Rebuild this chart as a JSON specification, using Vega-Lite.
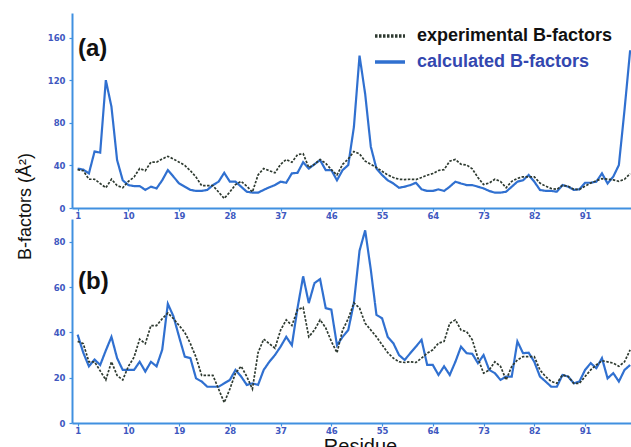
{
  "$schema": "https://vega.github.io/schema/vega-lite/v6.json",
  "autosize": "none",
  "padding": {"left": 72, "top": 13, "right": 0, "bottom": 24},
  "width": 559,
  "height": 410,
  "background": "white",
  "config": {
    "view": {"stroke": null},
    "axis": {
      "domainColor": "#4090e0", "domainWidth": 2, "tickColor": "#4090e0", "tickSize": 3, "tickWidth": 1.2,
      "labelColor": "#4058c0", "labelFont": "DejaVu Sans", "labelFontWeight": "bold", "labelFontSize": 8.5, "grid": false
    }
  },
  "datasets": {
    "exp": [
      {"residue":1,"value":36},{"residue":2,"value":35},{"residue":3,"value":27},{"residue":4,"value":27},{"residue":5,"value":23},
      {"residue":6,"value":19},{"residue":7,"value":27},{"residue":8,"value":21},{"residue":9,"value":19},{"residue":10,"value":25},
      {"residue":11,"value":29},{"residue":12,"value":37},{"residue":13,"value":35},{"residue":14,"value":43},{"residue":15,"value":43},
      {"residue":16,"value":46},{"residue":17,"value":48.5},{"residue":18,"value":46},{"residue":19,"value":43},{"residue":20,"value":40},
      {"residue":21,"value":35},{"residue":22,"value":29},{"residue":23,"value":21},{"residue":24,"value":21},{"residue":25,"value":21},
      {"residue":26,"value":15},{"residue":27,"value":9},{"residue":28,"value":15},{"residue":29,"value":22},{"residue":30,"value":25},
      {"residue":31,"value":20.5},{"residue":32,"value":15},{"residue":33,"value":31},{"residue":34,"value":37},{"residue":35,"value":35},
      {"residue":36,"value":33},{"residue":37,"value":41},{"residue":38,"value":45.5},{"residue":39,"value":43},{"residue":40,"value":50},
      {"residue":41,"value":51},{"residue":42,"value":38},{"residue":43,"value":41},{"residue":44,"value":45.5},{"residue":45,"value":42},
      {"residue":46,"value":36},{"residue":47,"value":31},{"residue":48,"value":41},{"residue":49,"value":46},{"residue":50,"value":53},
      {"residue":51,"value":50.7},{"residue":52,"value":44},{"residue":53,"value":41},{"residue":54,"value":38},{"residue":55,"value":34.5},
      {"residue":56,"value":31},{"residue":57,"value":28.6},{"residue":58,"value":27},{"residue":59,"value":26.7},{"residue":60,"value":27},
      {"residue":61,"value":26.7},{"residue":62,"value":28.6},{"residue":63,"value":30.8},{"residue":64,"value":32.3},{"residue":65,"value":35.2},
      {"residue":66,"value":36},{"residue":67,"value":44},{"residue":68,"value":45.5},{"residue":69,"value":41},{"residue":70,"value":40.3},
      {"residue":71,"value":36.7},{"residue":72,"value":28.6},{"residue":73,"value":22},{"residue":74,"value":23.4},{"residue":75,"value":27},
      {"residue":76,"value":25},{"residue":77,"value":19},{"residue":78,"value":25},{"residue":79,"value":27.8},{"residue":80,"value":29.3},
      {"residue":81,"value":29.3},{"residue":82,"value":29.3},{"residue":83,"value":23.4},{"residue":84,"value":20.5},{"residue":85,"value":18.3},
      {"residue":86,"value":17.5},{"residue":87,"value":21.2},{"residue":88,"value":20.5},{"residue":89,"value":17.5},{"residue":90,"value":17.5},
      {"residue":91,"value":20.5},{"residue":92,"value":23.4},{"residue":93,"value":25.6},{"residue":94,"value":27.5},{"residue":95,"value":27},
      {"residue":96,"value":26.4},{"residue":97,"value":25},{"residue":98,"value":27},{"residue":99,"value":32.3}
    ],
    "calcA": [
      {"residue":1,"value":37},{"residue":2,"value":36},{"residue":3,"value":32.5},{"residue":4,"value":53},{"residue":5,"value":52},
      {"residue":6,"value":120},{"residue":7,"value":95},{"residue":8,"value":45},{"residue":9,"value":26},{"residue":10,"value":21.5},
      {"residue":11,"value":20.6},{"residue":12,"value":20.6},{"residue":13,"value":17},{"residue":14,"value":20},{"residue":15,"value":18.4},
      {"residue":16,"value":26},{"residue":17,"value":35.6},{"residue":18,"value":29.4},{"residue":19,"value":23},{"residue":20,"value":20},
      {"residue":21,"value":17},{"residue":22,"value":16},{"residue":23,"value":16},{"residue":24,"value":17},{"residue":25,"value":21.5},
      {"residue":26,"value":24.7},{"residue":27,"value":33},{"residue":28,"value":24.7},{"residue":29,"value":24.7},{"residue":30,"value":20},
      {"residue":31,"value":15.3},{"residue":32,"value":14.4},{"residue":33,"value":14.4},{"residue":34,"value":17},{"residue":35,"value":19.4},
      {"residue":36,"value":21.5},{"residue":37,"value":24.7},{"residue":38,"value":23.7},{"residue":39,"value":32.5},{"residue":40,"value":33},
      {"residue":41,"value":43},{"residue":42,"value":37},{"residue":43,"value":41},{"residue":44,"value":45},{"residue":45,"value":35.6},
      {"residue":46,"value":35.6},{"residue":47,"value":26},{"residue":48,"value":35.6},{"residue":49,"value":40.3},{"residue":50,"value":76},
      {"residue":51,"value":143},{"residue":52,"value":107},{"residue":53,"value":57.5},{"residue":54,"value":37},{"residue":55,"value":31},
      {"residue":56,"value":26},{"residue":57,"value":23},{"residue":58,"value":19},{"residue":59,"value":20},{"residue":60,"value":21.5},
      {"residue":61,"value":23.7},{"residue":62,"value":17.5},{"residue":63,"value":16},{"residue":64,"value":16},{"residue":65,"value":17.5},
      {"residue":66,"value":16},{"residue":67,"value":20},{"residue":68,"value":24.7},{"residue":69,"value":23},{"residue":70,"value":21.5},
      {"residue":71,"value":21.5},{"residue":72,"value":20},{"residue":73,"value":18.4},{"residue":74,"value":16},{"residue":75,"value":14.4},
      {"residue":76,"value":14.4},{"residue":77,"value":15.3},{"residue":78,"value":20},{"residue":79,"value":24.7},{"residue":80,"value":26},
      {"residue":81,"value":31},{"residue":82,"value":24.7},{"residue":83,"value":17},{"residue":84,"value":16},{"residue":85,"value":16},
      {"residue":86,"value":15.3},{"residue":87,"value":21.5},{"residue":88,"value":20},{"residue":89,"value":17},{"residue":90,"value":17.5},
      {"residue":91,"value":23.7},{"residue":92,"value":23.7},{"residue":93,"value":24.7},{"residue":94,"value":32.5},{"residue":95,"value":23},
      {"residue":96,"value":29.4},{"residue":97,"value":40.3},{"residue":98,"value":92},{"residue":99,"value":148}
    ],
    "calcB": [
      {"residue":1,"value":39},{"residue":2,"value":31},{"residue":3,"value":25},{"residue":4,"value":28},{"residue":5,"value":25.6},
      {"residue":6,"value":32},{"residue":7,"value":38},{"residue":8,"value":28.6},{"residue":9,"value":23.4},{"residue":10,"value":23.4},
      {"residue":11,"value":23.4},{"residue":12,"value":27},{"residue":13,"value":22.7},{"residue":14,"value":27},{"residue":15,"value":25},
      {"residue":16,"value":32.3},{"residue":17,"value":52.6},{"residue":18,"value":47},{"residue":19,"value":38},{"residue":20,"value":29.3},
      {"residue":21,"value":28.6},{"residue":22,"value":19.7},{"residue":23,"value":18.3},{"residue":24,"value":16},{"residue":25,"value":16},
      {"residue":26,"value":16},{"residue":27,"value":17.5},{"residue":28,"value":19},{"residue":29,"value":23.4},{"residue":30,"value":20.5},
      {"residue":31,"value":16.8},{"residue":32,"value":17.5},{"residue":33,"value":16.8},{"residue":34,"value":23.4},{"residue":35,"value":27},
      {"residue":36,"value":30},{"residue":37,"value":33.7},{"residue":38,"value":38},{"residue":39,"value":34.3},{"residue":40,"value":50.7},
      {"residue":41,"value":64.7},{"residue":42,"value":52.9},{"residue":43,"value":61.7},{"residue":44,"value":63.5},{"residue":45,"value":50.7},
      {"residue":46,"value":50},{"residue":47,"value":34.3},{"residue":48,"value":38},{"residue":49,"value":41},{"residue":50,"value":53},
      {"residue":51,"value":76},{"residue":52,"value":85},{"residue":53,"value":67.6},{"residue":54,"value":47.7},{"residue":55,"value":46.2},
      {"residue":56,"value":38},{"residue":57,"value":35.2},{"residue":58,"value":30},{"residue":59,"value":27.8},{"residue":60,"value":30.8},
      {"residue":61,"value":33.7},{"residue":62,"value":36.7},{"residue":63,"value":25.6},{"residue":64,"value":25.6},{"residue":65,"value":21.2},
      {"residue":66,"value":25},{"residue":67,"value":21.2},{"residue":68,"value":27},{"residue":69,"value":33.7},{"residue":70,"value":30.8},
      {"residue":71,"value":30.5},{"residue":72,"value":26.4},{"residue":73,"value":30},{"residue":74,"value":23.4},{"residue":75,"value":22},
      {"residue":76,"value":19},{"residue":77,"value":20.5},{"residue":78,"value":20.5},{"residue":79,"value":36},{"residue":80,"value":30.8},
      {"residue":81,"value":31},{"residue":82,"value":27},{"residue":83,"value":20.5},{"residue":84,"value":18.3},{"residue":85,"value":16},
      {"residue":86,"value":16},{"residue":87,"value":21.2},{"residue":88,"value":20.5},{"residue":89,"value":17.5},{"residue":90,"value":18.3},
      {"residue":91,"value":23.4},{"residue":92,"value":26.4},{"residue":93,"value":24.2},{"residue":94,"value":28.6},{"residue":95,"value":19.7},
      {"residue":96,"value":22},{"residue":97,"value":18.3},{"residue":98,"value":23.4},{"residue":99,"value":25.6}
    ]
  },
  "resolve": {"scale": {"x": "independent", "y": "independent"}, "axis": {"x": "independent", "y": "independent"}},
  "layer": [
    {
      "layer": [
        {
          "data": {"name": "calcA"},
          "mark": {"type": "line", "strokeWidth": 2.2},
          "encoding": {
            "x": {"field": "residue", "type": "quantitative", "scale": {"domain": [0, 99.15], "nice": false, "zero": false},
                  "axis": {"orient": "bottom", "offset": -215, "values": [1,10,19,28,37,46,55,64,73,82,91], "title": null, "labelPadding": 0}},
            "y": {"field": "value", "type": "quantitative", "scale": {"domain": [0, 183], "nice": false, "range": [195, 0]},
                  "axis": {"orient": "left", "values": [0,40,80,120,160], "labelPadding": 4, "title": "B-factors (Å²)", "titleX": -42, "titleY": 193, "titleAngle": -90,
                           "titleAlign": "center", "titleBaseline": "alphabetic", "titleFontSize": 18, "titleFontWeight": "normal",
                           "titleFont": "Liberation Sans", "titleColor": "#111111"}},
            "color": {"datum": "calculated B-factors", "type": "nominal",
                      "scale": {"domain": ["experimental B-factors", "calculated B-factors"], "range": ["#2e3a30", "#3070d0"]},
                      "legend": {"orient": "none", "legendX": 301, "legendY": 6, "title": null, "padding": 0, "rowPadding": 0,
                                 "labelFontSize": 18, "labelFont": "Liberation Sans", "labelFontWeight": "bold", "labelOffset": 10, "labelLimit": 320,
                                 "symbolType": "stroke", "symbolSize": 900, "symbolStrokeWidth": 3.5,
                                 "encode": {"labels": {"update": {"fill": {"signal": "datum.value === 'calculated B-factors' ? '#3347b0' : '#111111'"}}}}}},
            "strokeDash": {"datum": "calculated B-factors", "type": "nominal",
                           "scale": {"domain": ["experimental B-factors", "calculated B-factors"], "range": [[2.5, 1.5], [1, 0]]}}
          }
        },
        {
          "data": {"name": "exp"},
          "mark": {"type": "line", "strokeWidth": 1.7},
          "encoding": {
            "x": {"field": "residue", "type": "quantitative"},
            "y": {"field": "value", "type": "quantitative"},
            "color": {"datum": "experimental B-factors", "type": "nominal"},
            "strokeDash": {"datum": "experimental B-factors", "type": "nominal"}
          }
        },
        {
          "data": {"values": [{}]},
          "mark": {"type": "text", "text": "(a)", "align": "left", "baseline": "alphabetic", "fontSize": 24, "fontWeight": "bold", "font": "Liberation Sans", "color": "#111111"},
          "encoding": {
            "x": {"datum": 1.06, "type": "quantitative"},
            "y": {"datum": 142.6, "type": "quantitative"}
          }
        }
      ]
    },
    {
      "layer": [
        {
          "data": {"name": "calcB"},
          "mark": {"type": "line", "strokeWidth": 2.2},
          "encoding": {
            "x": {"field": "residue", "type": "quantitative", "scale": {"domain": [0, 99.15], "nice": false, "zero": false},
                  "axis": {"orient": "bottom", "values": [1,10,19,28,37,46,55,64,73,82,91], "labelPadding": 0, "title": "Residue", "titleX": 288, "titleY": 29.5,
                           "titleAlign": "center", "titleBaseline": "alphabetic", "titleFontSize": 20, "titleFontWeight": "normal",
                           "titleFont": "Liberation Sans", "titleColor": "#111111"}},
            "y": {"field": "value", "type": "quantitative", "scale": {"domain": [0, 90], "nice": false, "range": [410, 206]},
                  "axis": {"orient": "left", "values": [0,20,40,60,80], "labelPadding": 4, "title": null}},
            "color": {"datum": "calculated B-factors", "type": "nominal"},
            "strokeDash": {"datum": "calculated B-factors", "type": "nominal"}
          }
        },
        {
          "data": {"name": "exp"},
          "mark": {"type": "line", "strokeWidth": 1.7},
          "encoding": {
            "x": {"field": "residue", "type": "quantitative"},
            "y": {"field": "value", "type": "quantitative"},
            "color": {"datum": "experimental B-factors", "type": "nominal"},
            "strokeDash": {"datum": "experimental B-factors", "type": "nominal"}
          }
        },
        {
          "data": {"values": [{}]},
          "mark": {"type": "text", "text": "(b)", "align": "left", "baseline": "alphabetic", "fontSize": 24, "fontWeight": "bold", "font": "Liberation Sans", "color": "#111111"},
          "encoding": {
            "x": {"datum": 1.06, "type": "quantitative"},
            "y": {"datum": 59.1, "type": "quantitative"}
          }
        }
      ]
    }
  ]
}
